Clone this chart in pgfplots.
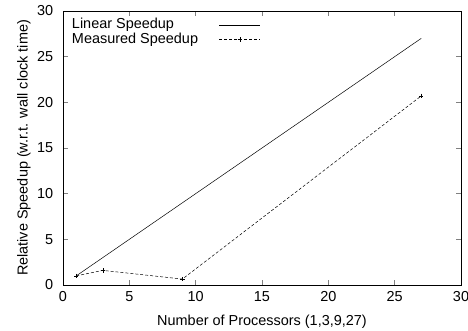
\documentclass[border=0pt]{standalone}
\usepackage{fontspec}
\setmainfont{Liberation Sans}
\usepackage{pgfplots}
\pgfplotsset{compat=1.18}
\begin{document}
\begin{tikzpicture}[x=1bp,y=1bp]
\path[use as bounding box] (-63bp,-46bp) rectangle (405bp,285bp);
\begin{axis}[
  at={(0,0)}, anchor=south west,
  scale only axis,
  width=398bp, height=274bp,
  xmin=0, xmax=30, ymin=0, ymax=30,
  xtick={0,5,...,30}, ytick={0,5,...,30},
  tick align=inside,
  tick pos=both,
  major tick length=5bp,
  tick style={line width=0.6pt},
  /pgf/number format/assume math mode=true,
  ticklabel style={font=\fontsize{14.5}{17}\selectfont},
  xticklabel style={inner sep=0pt, yshift=-6.6bp},
  yticklabel style={inner sep=0pt, xshift=-9.7bp},
  label style={font=\fontsize{14.5}{17}\selectfont},
  xlabel={Number of Processors (1,3,9,27)},
  ylabel={Relative Speedup (w.r.t. wall clock time)},
  xlabel style={at={(axis description cs:0.5,-0.1496)}, anchor=base},
  ylabel style={at={(axis description cs:-0.098,0.5)}, anchor=center, rotate=0},
  axis line style={line width=0.8pt},
  legend style={draw=none, fill=none, inner sep=0pt, outer sep=0pt,
    at={(axis description cs:0.0226,0.9723)}, anchor=north west,
    font=\fontsize{14.5}{17}\selectfont, row sep=1.4bp,
    nodes={inner sep=0pt, text height=10.4bp, text depth=2.5bp},
    /tikz/every odd column/.append style={column sep=21bp}},
  legend plot pos=right,
  legend cell align=left,
  legend image code/.code={\draw[#1, mark=none] (0bp,0bp) -- (41bp,0bp);
    \draw[#1, only marks] plot coordinates {(20.5bp,0bp)};},
]
\addplot[black, line width=0.5pt, mark=none] coordinates {(1,1) (27,27)};
\addlegendentry{Linear Speedup}
\addplot[black, line width=0.5pt, densely dashed, mark=+, mark size=2.2bp, mark options={solid}]
  coordinates {(1,1) (3,1.6) (9,0.65) (27,20.7)};
\addlegendentry{Measured Speedup}
\end{axis}
\end{tikzpicture}
\end{document}
